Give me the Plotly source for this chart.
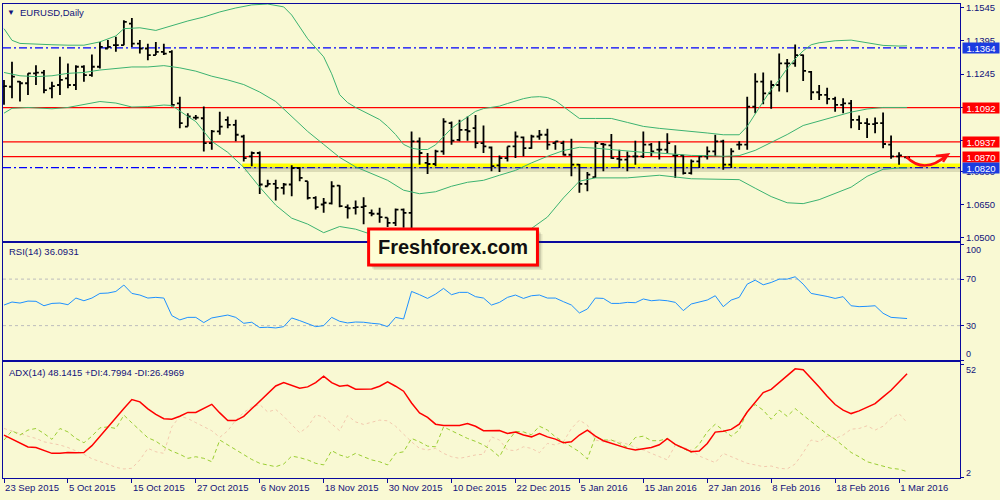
import pandas as pd
import plotly.graph_objects as go

# ---------------- data ----------------
holidays = ["2015-12-25", "2016-01-01"]
dates = [d.strftime("%Y-%m-%d") for d in pd.bdate_range("2015-09-23", "2016-03-02")
         if d.strftime("%Y-%m-%d") not in holidays]
bar_idx = list(range(len(dates)))

tick_dates = ["2015-09-23", "2015-10-05", "2015-10-15", "2015-10-27", "2015-11-06",
              "2015-11-18", "2015-11-30", "2015-12-10", "2015-12-22", "2016-01-05",
              "2016-01-15", "2016-01-27", "2016-02-08", "2016-02-18", "2016-03-01"]
tick_text = ["23 Sep 2015", "5 Oct 2015", "15 Oct 2015", "27 Oct 2015", "6 Nov 2015",
             "18 Nov 2015", "30 Nov 2015", "10 Dec 2015", "22 Dec 2015", "5 Jan 2016",
             "15 Jan 2016", "27 Jan 2016", "8 Feb 2016", "18 Feb 2016", "1 Mar 2016"]

open_ = [1.1188, 1.1187, 1.1210, 1.1203, 1.1248, 1.1251, 1.1180, 1.1195, 1.1225, 1.1195,
         1.1278, 1.1240, 1.1278, 1.1361, 1.1376, 1.1376, 1.1474, 1.1383, 1.1361, 1.1331,
         1.1346, 1.1346, 1.1112, 1.1006, 1.1047, 1.1044, 1.0931, 1.0984, 1.1037, 1.1014,
         1.0961, 1.0871, 1.0886, 1.0735, 1.0746, 1.0728, 1.0743, 1.0818, 1.0758, 1.0682,
         1.0652, 1.0657, 1.0738, 1.0640, 1.0637, 1.0640, 1.0614, 1.0610, 1.0592, 1.0569,
         1.0629, 1.0614, 1.0939, 1.0841, 1.0836, 1.0893, 1.1022, 1.0946, 1.0991, 1.0999,
         1.0931, 1.0911, 1.0830, 1.0863, 1.0916, 1.0957, 1.0908, 1.0961, 1.0969, 1.0931,
         1.0931, 1.0878, 1.0833, 1.0746, 1.0776, 1.0927, 1.0921, 1.0860, 1.0856, 1.0871,
         1.0871, 1.0924, 1.0901, 1.0901, 1.0875, 1.0875, 1.0795, 1.0848, 1.0871, 1.0893,
         1.0939, 1.0833, 1.0924, 1.0924, 1.1097, 1.1210, 1.1157, 1.1195, 1.1293, 1.1293,
         1.1331, 1.1255, 1.1162, 1.1150, 1.1132, 1.1105, 1.1112, 1.1037, 1.1022, 1.1017,
         1.1022, 1.0924, 1.0871, 1.0866]
high = [1.1218, 1.1301, 1.1213, 1.1248, 1.1285, 1.1263, 1.1210, 1.1323, 1.1293, 1.1285,
        1.1285, 1.1334, 1.1391, 1.1399, 1.1414, 1.1489, 1.1500, 1.1399, 1.1383, 1.1391,
        1.1383, 1.1353, 1.1142, 1.1067, 1.1059, 1.1097, 1.0991, 1.1074, 1.1052, 1.1037,
        1.0969, 1.0893, 1.0893, 1.0765, 1.0765, 1.0750, 1.0830, 1.0823, 1.0758, 1.0690,
        1.0682, 1.0758, 1.0740, 1.0652, 1.0670, 1.0685, 1.0629, 1.0637, 1.0592, 1.0634,
        1.0634, 1.0984, 1.0957, 1.0886, 1.0901, 1.1044, 1.1029, 1.1037, 1.1052, 1.1059,
        1.1011, 1.0916, 1.0875, 1.0916, 1.0984, 1.0961, 1.0969, 1.0991, 1.0996, 1.0939,
        1.0942, 1.0951, 1.0836, 1.0800, 1.0939, 1.0931, 1.0972, 1.0901, 1.0893, 1.0942,
        1.0984, 1.0931, 1.0939, 1.0976, 1.0921, 1.0878, 1.0856, 1.0871, 1.0916, 1.0969,
        1.0946, 1.0908, 1.0939, 1.1142, 1.1248, 1.1252, 1.1215, 1.1338, 1.1313, 1.1379,
        1.1334, 1.1259, 1.1195, 1.1183, 1.1142, 1.1135, 1.1127, 1.1056, 1.1044, 1.1047,
        1.1070, 1.0966, 1.0890, 1.0869]
low = [1.1105, 1.1135, 1.1120, 1.1150, 1.1195, 1.1157, 1.1135, 1.1150, 1.1180, 1.1172,
       1.1210, 1.1233, 1.1270, 1.1361, 1.1346, 1.1376, 1.1368, 1.1338, 1.1308, 1.1331,
       1.1331, 1.1097, 1.0999, 1.1006, 1.1037, 1.0893, 1.0901, 1.0969, 1.0999, 1.0939,
       1.0848, 1.0826, 1.0700, 1.0735, 1.0670, 1.0697, 1.0690, 1.0758, 1.0675, 1.0629,
       1.0614, 1.0652, 1.0640, 1.0589, 1.0607, 1.0562, 1.0599, 1.0569, 1.0550, 1.0554,
       1.0546, 1.0524, 1.0833, 1.0791, 1.0826, 1.0878, 1.0924, 1.0939, 1.0942, 1.0908,
       1.0886, 1.0803, 1.0800, 1.0848, 1.0863, 1.0871, 1.0905, 1.0946, 1.0901, 1.0901,
       1.0875, 1.0780, 1.0705, 1.0712, 1.0773, 1.0803, 1.0860, 1.0818, 1.0803, 1.0833,
       1.0863, 1.0871, 1.0856, 1.0886, 1.0773, 1.0788, 1.0788, 1.0818, 1.0856, 1.0871,
       1.0810, 1.0818, 1.0901, 1.0901, 1.1067, 1.1108, 1.1087, 1.1165, 1.1162, 1.1278,
       1.1213, 1.1127, 1.1127, 1.1108, 1.1074, 1.1067, 1.0999, 1.0991, 1.0954, 1.0976,
       1.0908, 1.0860, 1.0833, 1.0860]
close = [1.1190, 1.1233, 1.1203, 1.1248, 1.1251, 1.1172, 1.1190, 1.1218, 1.1195, 1.1278,
         1.1240, 1.1278, 1.1368, 1.1368, 1.1376, 1.1482, 1.1383, 1.1361, 1.1331, 1.1346,
         1.1338, 1.1105, 1.1022, 1.1052, 1.1047, 1.0931, 1.0984, 1.1006, 1.1014, 1.0969,
         1.0863, 1.0886, 1.0743, 1.0746, 1.0728, 1.0743, 1.0818, 1.0773, 1.0682, 1.0640,
         1.0660, 1.0735, 1.0645, 1.0635, 1.0640, 1.0645, 1.0610, 1.0595, 1.0569, 1.0629,
         1.0614, 1.0939, 1.0886, 1.0836, 1.0893, 1.1029, 1.0942, 1.0991, 1.0985, 1.0931,
         1.0916, 1.0826, 1.0863, 1.0916, 1.0961, 1.0908, 1.0961, 1.0969, 1.0924, 1.0939,
         1.0878, 1.0833, 1.0746, 1.0788, 1.0931, 1.0924, 1.0863, 1.0856, 1.0871, 1.0871,
         1.0924, 1.0893, 1.0901, 1.0931, 1.0875, 1.0795, 1.0848, 1.0871, 1.0893, 1.0939,
         1.0833, 1.0893, 1.0924, 1.1097, 1.1210, 1.1157, 1.1195, 1.1293, 1.1293, 1.1331,
         1.1259, 1.1162, 1.1150, 1.1132, 1.1105, 1.1112, 1.1037, 1.1022, 1.1017, 1.1022,
         1.0927, 1.0871, 1.0875, 1.0866]

# Bollinger bands (bar index, price)
upper_x = [0, 1, 2, 4, 6, 8, 10, 12, 14, 15, 17, 19, 21, 23, 25, 27, 29, 31, 33, 35,
           36, 38, 40, 41, 42, 43, 44, 45, 46, 47, 48, 49, 50, 51, 52, 53, 54, 55, 56, 57,
           58, 59, 60, 61, 62, 63, 64, 65, 66, 67, 68, 69, 70, 71, 72, 74, 76, 78, 80, 82,
           84, 86, 88, 90, 92, 93, 94, 95, 96, 97, 98, 99, 100, 101, 102, 104, 106, 108,
           110, 112, 113]
upper_y = [1.1451, 1.1398, 1.1384, 1.1380, 1.1378, 1.1376, 1.1376, 1.1391, 1.1418, 1.1451,
           1.1455, 1.1443, 1.1466, 1.1486, 1.1504, 1.1527, 1.1545, 1.1559, 1.1563, 1.1550,
           1.1513, 1.1405, 1.1323, 1.1246, 1.1151, 1.1115, 1.1093, 1.1075, 1.1056, 1.1038,
           1.1007, 1.0970, 1.0925, 1.0908, 1.0902, 1.0902, 1.0923, 1.0961, 1.0998, 1.1025,
           1.1052, 1.1075, 1.1088, 1.1093, 1.1099, 1.1111, 1.1122, 1.1133, 1.1140, 1.1142,
           1.1138, 1.1124, 1.1097, 1.1070, 1.1043, 1.1043, 1.1043, 1.1025, 1.1007, 1.0998,
           1.0992, 1.0986, 1.0977, 1.0969, 1.0969, 1.1007, 1.1065, 1.1120, 1.1174, 1.1219,
           1.1270, 1.1314, 1.1350, 1.1378, 1.1387, 1.1396, 1.1399, 1.1387, 1.1375, 1.1372,
           1.1373]
mid_x = [0, 2, 4, 6, 8, 10, 12, 14, 16, 18, 20, 22, 24, 26, 28, 30, 32, 34, 36, 38,
         40, 42, 44, 46, 48, 50, 52, 54, 56, 58, 60, 62, 64, 66, 68, 70, 72, 74, 76, 78,
         80, 82, 84, 86, 88, 90, 92, 94, 96, 98, 100, 102, 104, 106, 108, 110, 112, 113]
mid_y = [1.1252, 1.1237, 1.1233, 1.1237, 1.1248, 1.1252, 1.1263, 1.1270, 1.1277, 1.1277,
         1.1283, 1.1273, 1.1258, 1.1235, 1.1218, 1.1197, 1.1163, 1.1120, 1.1052, 1.0984,
         1.0925, 1.0866, 1.0823, 1.0794, 1.0762, 1.0717, 1.0701, 1.0710, 1.0735, 1.0753,
         1.0762, 1.0785, 1.0807, 1.0841, 1.0871, 1.0897, 1.0912, 1.0908, 1.0901, 1.0896,
         1.0889, 1.0886, 1.0880, 1.0875, 1.0874, 1.0871, 1.0874, 1.0898, 1.0934, 1.0970,
         1.1011, 1.1031, 1.1052, 1.1072, 1.1086, 1.1093, 1.1093, 1.1093]
lower_x = [0, 1, 3, 6, 8, 10, 12, 14, 16, 18, 20, 21, 22, 23, 24, 26, 28, 30, 32, 34,
           36, 38, 40, 42, 44, 46, 48, 50, 52, 54, 56, 58, 60, 62, 64, 66, 68, 70, 72, 74,
           78, 82, 86, 90, 92, 94, 96, 98, 100, 102, 104, 106, 108, 110, 112, 113]
lower_y = [1.1067, 1.1089, 1.1093, 1.1087, 1.1093, 1.1108, 1.1120, 1.1113, 1.1095, 1.1097,
           1.1104, 1.1102, 1.1079, 1.1052, 1.1029, 1.0939, 1.0889, 1.0821, 1.0731, 1.0649,
           1.0590, 1.0563, 1.0524, 1.0552, 1.0540, 1.0516, 1.0500, 1.0486, 1.0477, 1.0472,
           1.0472, 1.0477, 1.0486, 1.0500, 1.0518, 1.0543, 1.0595, 1.0682, 1.0758, 1.0773,
           1.0773, 1.0785, 1.0769, 1.0765, 1.0765, 1.0726, 1.0688, 1.0660, 1.0656, 1.0674,
           1.0703, 1.0731, 1.0780, 1.0812, 1.0818, 1.0818]

rsi = [47.7, 50.3, 49.4, 51.1, 50.9, 47.1, 49.1, 49.4, 48.0, 53.7,
       51.4, 53.7, 57.7, 58.0, 59.4, 64.9, 57.7, 56.3, 53.7, 54.3,
       53.7, 38.6, 34.9, 37.1, 37.1, 32.6, 36.6, 37.7, 39.1, 37.1,
       32.0, 32.9, 28.3, 28.6, 28.0, 29.1, 36.6, 34.3, 32.0, 29.1,
       30.0, 37.1, 33.7, 32.3, 33.1, 32.9, 32.0, 31.4, 29.1, 37.1,
       35.7, 59.4, 56.6, 53.4, 57.1, 62.0, 56.6, 58.6, 58.6, 54.9,
       53.7, 47.7, 50.0, 54.3, 56.3, 53.4, 55.7, 56.3, 53.7, 53.7,
       50.6, 47.7, 40.9, 44.3, 53.7, 53.4, 49.1, 49.1, 50.0, 49.7,
       52.9, 51.4, 52.0, 51.4, 50.0, 42.9, 48.6, 50.0, 52.0, 55.7,
       46.3, 52.0, 54.3, 65.7, 69.1, 65.1, 67.1, 70.0, 70.0, 72.0,
       65.7, 57.7, 56.6, 55.1, 53.4, 54.9, 47.1, 46.3, 46.6, 47.1,
       40.6, 37.1, 36.6, 36.09]

adx = [21.0, 19.2, 17.7, 15.7, 15.5, 14.2, 12.9, 12.9, 13.3, 13.2,
       13.3, 16.3, 20.5, 24.2, 28.8, 32.7, 36.7, 35.7, 32.6, 30.1,
       28.2, 28.0, 29.3, 31.0, 31.0, 32.7, 34.6, 30.8, 27.4, 27.4,
       29.3, 32.6, 36.1, 39.3, 42.7, 44.2, 43.0, 41.7, 42.3, 44.2,
       47.0, 44.2, 42.6, 43.0, 41.3, 41.4, 41.4, 42.6, 44.5, 42.6,
       40.4, 35.2, 30.8, 28.8, 25.8, 25.2, 25.2, 25.2, 26.1, 24.9,
       22.9, 23.0, 23.0, 21.7, 22.3, 21.0, 20.2, 21.7, 20.2, 19.2,
       17.6, 18.0, 21.0, 23.2, 20.5, 18.5, 17.3, 16.1, 15.1, 14.4,
       15.1, 15.5, 16.7, 19.4, 16.9, 15.1, 13.6, 13.9, 17.3, 22.3,
       22.7, 23.5, 25.8, 31.2, 35.7, 39.8, 41.2, 44.2, 47.1, 50.3,
       49.9, 46.2, 42.3, 38.2, 34.5, 32.0, 30.5, 31.7, 33.3, 34.9,
       37.9, 40.8, 44.5, 48.14]
plus_di = [18.8, 22.9, 21.0, 23.2, 23.9, 21.7, 19.1, 23.9, 22.4, 19.5,
           17.6, 20.5, 24.2, 24.6, 23.9, 29.8, 26.4, 22.9, 19.8, 18.3,
           15.8, 13.9, 12.5, 10.7, 11.4, 10.7, 9.2, 18.8, 16.6, 14.4,
           12.2, 10.2, 8.5, 7.8, 7.0, 8.2, 11.7, 11.0, 10.0, 8.5,
           7.8, 14.1, 12.2, 11.1, 12.9, 11.4, 10.0, 9.2, 7.8, 12.9,
           13.6, 19.5, 18.0, 16.1, 15.8, 24.6, 22.9, 21.0, 19.5, 18.2,
           16.6, 14.4, 11.4, 18.0, 22.6, 22.4, 21.1, 24.9, 23.2, 20.2,
           18.0, 15.8, 13.6, 10.4, 20.2, 18.8, 18.8, 17.3, 15.5, 19.9,
           20.5, 18.5, 18.5, 19.5, 16.6, 15.1, 13.3, 17.0, 22.4, 25.8,
           23.2, 20.5, 23.2, 31.7, 34.5, 32.0, 28.0, 32.0, 29.3, 32.7,
           29.8, 27.0, 24.0, 21.4, 19.1, 16.3, 13.3, 11.4, 9.2, 8.2,
           7.3, 6.3, 5.9, 4.80]
minus_di = [23.9, 22.9, 21.7, 20.5, 19.5, 18.0, 17.3, 16.6, 15.5, 13.9,
            12.5, 10.5, 9.4, 8.1, 6.7, 6.0, 6.3, 10.0, 15.1, 13.6,
            12.9, 24.6, 29.3, 28.3, 26.5, 24.6, 22.9, 20.0, 22.9, 27.6,
            31.0, 33.4, 34.5, 31.2, 32.3, 29.3, 25.8, 22.0, 24.6, 29.9,
            29.0, 26.1, 22.9, 29.6, 26.8, 25.7, 26.8, 27.6, 27.3, 24.9,
            21.4, 18.0, 15.1, 14.4, 15.1, 12.9, 11.4, 10.7, 11.4, 12.2,
            12.5, 20.2, 18.8, 14.4, 14.1, 15.8, 15.1, 13.2, 17.3, 16.6,
            18.0, 23.9, 27.6, 25.4, 18.8, 18.0, 18.8, 18.0, 17.0, 15.5,
            14.4, 12.9, 11.4, 10.0, 16.6, 15.5, 14.4, 11.7, 10.2, 8.8,
            12.9, 11.4, 10.2, 8.5, 7.8, 7.0, 7.3, 6.3, 6.0, 8.2,
            13.2, 18.8, 18.0, 20.5, 19.5, 21.0, 23.6, 23.9, 25.1, 23.2,
            24.9, 28.3, 30.5, 26.50]

red_levels = [1.1092, 1.0937, 1.0870]
blue_levels = [1.1364, 1.0820]
support_level = 1.0830
support_start = 29.8
price_ticks = [1.1545, 1.1395, 1.1245, 1.1095, 1.0945, 1.0800, 1.0650, 1.0500]
price_tick_text = ["1.1545", "1.1395", "1.1245", "", "", "1.0800", "1.0650", "1.0500"]
rsi_levels = [70, 30]

# ---------------- styling ----------------
W, H = 1000, 500
ML, MR, MT, MB = 2, 40, 2, 22
PW, PH = W - ML - MR, H - MT - MB
BG = "#F9F9D3"
NAVY = "#12127A"
FRAME = "#0A0A9E"
GREEN = "#3CB371"
RED = "#FF0000"
BLUE = "#0000FF"
BOXBLUE = "#1C3CE0"
FONT = "Liberation Sans, Arial, sans-serif"
X_RANGE = [-0.125, 119.625]


def px(x, y):
    return (x - ML) / PW, (H - MB - y) / PH


tick_idx = [dates.index(d) for d in tick_dates]

fig = go.Figure()
for bx, by in [(upper_x, upper_y), (mid_x, mid_y), (lower_x, lower_y)]:
    fig.add_trace(go.Scatter(x=bx, y=by, mode="lines", line=dict(color=GREEN, width=1),
                             xaxis="x", yaxis="y", hoverinfo="skip", showlegend=False))
fig.add_trace(go.Ohlc(x=bar_idx, open=open_, high=high, low=low, close=close,
                      increasing=dict(line=dict(color="black", width=1.8)),
                      decreasing=dict(line=dict(color="black", width=1.8)),
                      tickwidth=0.36, xaxis="x", yaxis="y", showlegend=False, hoverinfo="skip"))
fig.add_trace(go.Scatter(x=bar_idx, y=rsi, mode="lines", line=dict(color="#1E90FF", width=1),
                         xaxis="x2", yaxis="y2", showlegend=False, hoverinfo="skip"))
fig.add_trace(go.Scatter(x=bar_idx, y=minus_di, mode="lines",
                         line=dict(color="#F2C9AE", width=1, dash="dot"),
                         xaxis="x3", yaxis="y3", showlegend=False, hoverinfo="skip"))
fig.add_trace(go.Scatter(x=bar_idx, y=plus_di, mode="lines",
                         line=dict(color="#9ACD32", width=1, dash="4px,3px"),
                         xaxis="x3", yaxis="y3", showlegend=False, hoverinfo="skip"))
fig.add_trace(go.Scatter(x=bar_idx, y=adx, mode="lines", line=dict(color=RED, width=1.5),
                         xaxis="x3", yaxis="y3", showlegend=False, hoverinfo="skip"))

shapes = []
# shadow + yellow support line
shapes.append(dict(type="line", xref="x", yref="y", x0=support_start + 0.3, x1=X_RANGE[1],
                   y0=support_level - 0.0014, y1=support_level - 0.0014,
                   line=dict(color="rgba(70,70,30,0.16)", width=7), layer="below"))
shapes.append(dict(type="line", xref="x", yref="y", x0=support_start + 0.2, x1=X_RANGE[1],
                   y0=support_level - 0.0009, y1=support_level - 0.0009,
                   line=dict(color="rgba(70,70,30,0.20)", width=3), layer="below"))
shapes.append(dict(type="line", xref="x", yref="y", x0=support_start, x1=X_RANGE[1],
                   y0=support_level, y1=support_level,
                   line=dict(color="#FFFF00", width=3.5), layer="below"))
for lv in red_levels:
    shapes.append(dict(type="line", xref="x domain", yref="y", x0=0, x1=1, y0=lv, y1=lv,
                       line=dict(color=RED, width=1.2), layer="below"))
for lv in blue_levels:
    shapes.append(dict(type="line", xref="x domain", yref="y", x0=0, x1=1, y0=lv, y1=lv,
                       line=dict(color=BLUE, width=1.2, dash="8px,3px,2px,3px"), layer="below"))
for lv in rsi_levels:
    shapes.append(dict(type="line", xref="x2 domain", yref="y2", x0=0, x1=1, y0=lv, y1=lv,
                       line=dict(color="#BDBDBD", width=1, dash="3px,3px"), layer="below"))

# Freshforex box with shadow
for off, op in [(5, 0.10), (3.5, 0.14), (2, 0.18)]:
    x0, y0 = px(368 + off, 264 + off)
    x1, y1 = px(537 + off, 228 + off)
    shapes.append(dict(type="rect", xref="paper", yref="paper", x0=x0, y0=y0, x1=x1, y1=y1,
                       fillcolor=f"rgba(60,60,40,{op})", line=dict(width=0), layer="above"))
x0, y0 = px(368, 264)
x1, y1 = px(537, 228)
shapes.append(dict(type="rect", xref="paper", yref="paper", x0=x0, y0=y0, x1=x1, y1=y1,
                   fillcolor="#FEFED6", line=dict(color="#FF0000", width=3), layer="above"))

# red curved arrow
shapes.append(dict(type="path", xref="x", yref="y",
                   path="M 112.9,1.0869 C 114.2,1.0822 115.9,1.0808 118.0,1.0877",
                   line=dict(color="#FF1010", width=2.5), layer="above"))
shapes.append(dict(type="path", xref="x", yref="y",
                   path="M 116.6,1.0873 L 118.1,1.0879 L 117.5,1.0846",
                   line=dict(color="#FF1010", width=2.5), layer="above"))

annotations = []
for lv, col in [(1.1364, BOXBLUE), (1.1092, RED), (1.0937, RED), (1.0870, RED), (1.0820, BOXBLUE)]:
    annotations.append(dict(xref="paper", yref="y", x=px(962, 0)[0], y=lv, xanchor="left",
                            yanchor="middle", text=f"{lv:.4f}", showarrow=False,
                            font=dict(family=FONT, size=9.5, color="white"),
                            bgcolor=col, width=34, height=8, borderpad=1, align="center"))


def label(x, y, text, size=9.5, color=NAVY, anchor="left", **kw):
    ax, ay = px(x, y)
    annotations.append(dict(xref="paper", yref="paper", x=ax, y=ay, xanchor=anchor,
                            yanchor="middle", text=text, showarrow=False,
                            font=dict(family=FONT, size=size, color=color), **kw))


label(4, 11, "▼", size=8)
label(17, 11, "EURUSD,Daily")
label(6, 251, "RSI(14) 36.0931")
label(6, 372, "ADX(14) 48.1415 +DI:4.7994 -DI:26.4969")
for y, t in [(249, "100"), (278.3, "70"), (325, "30"), (353.3, "0"), (369.3, "52"), (472.7, "2")]:
    label(964, y, t, size=9)
label(452.5, 246, "<b>Freshforex.com</b>", size=20, color="#111111", anchor="center")

axis_x = dict(range=X_RANGE, showline=True, mirror=True, linecolor=FRAME, linewidth=1.2,
              showgrid=False, zeroline=False, rangeslider=dict(visible=False), fixedrange=True)
axis_y = dict(side="right", showline=True, mirror=True, linecolor=FRAME, linewidth=1.2,
              showgrid=False, zeroline=False, ticks="outside", ticklen=3, tickcolor=FRAME,
              tickfont=dict(family=FONT, size=9.5, color=NAVY), fixedrange=True)

fig.update_layout(
    width=W, height=H, margin=dict(l=ML, r=MR, t=MT, b=MB),
    paper_bgcolor=BG, plot_bgcolor=BG, showlegend=False,
    xaxis=dict(axis_x, anchor="y", showticklabels=False, ticks=""),
    xaxis2=dict(axis_x, anchor="y2", showticklabels=False, ticks=""),
    xaxis3=dict(axis_x, anchor="y3", tickvals=tick_idx, ticktext=tick_text, ticks="outside",
                ticklen=4, tickcolor=FRAME, ticklabelposition="outside right",
                tickfont=dict(family=FONT, size=9.5, color=NAVY)),
    yaxis=dict(axis_y, domain=[0.5, 1.0], range=[1.04862, 1.15631], anchor="x",
               tickvals=price_ticks, ticktext=price_tick_text),
    yaxis2=dict(axis_y, domain=[0.2479, 0.4958], range=[0, 101.07], anchor="x2",
                tickvals=[0, 30, 70, 100], showticklabels=False),
    yaxis3=dict(axis_y, domain=[0.0, 0.2437], range=[2.0, 53.1], anchor="x3",
                tickvals=[2, 52], showticklabels=False),
    shapes=shapes, annotations=annotations,
)

fig.write_html("out.html", config={"displayModeBar": False},
               post_script="document.body.style.margin='0';document.body.style.padding='0';"
                           "document.body.style.overflow='hidden';"
                           "document.body.style.background='" + BG + "';")
